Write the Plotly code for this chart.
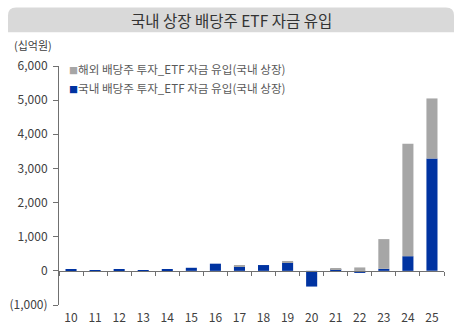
import plotly.graph_objects as go

categories = ['10', '11', '12', '13', '14', '15', '16', '17', '18', '19', '20', '21', '22', '23', '24', '25']
domestic = [30, 15, 30, 25, 30, 90, 210, 130, 170, 240, -460, 40, -60, 60, 430, 3290]
overseas = [0, 0, 0, 0, 0, 0, 0, 40, 0, 50, 0, 40, 100, 870, 3290, 1760]
name_overseas = '해외 배당주 투자_ETF 자금 유입(국내 상장)'
name_domestic = '국내 배당주 투자_ETF 자금 유입(국내 상장)'
title_text = '국내 상장 배당주 ETF 자금 유입'
unit_text = '(십억원)'
ytick_vals = [-1000, 0, 1000, 2000, 3000, 4000, 5000, 6000]
ytick_text = ['(1,000)', '0', '1,000', '2,000', '3,000', '4,000', '5,000', '6,000']

BLUE = '#0033a1'
GRAY = '#a6a6a6'
FONT = 'Noto Sans CJK KR'
W, H = 454, 335
ML, MR, MT, MB = 59, 10, 66, 28
PW, PH = W - ML - MR, H - MT - MB


def px_x(x):
    return (x - ML) / PW


def px_y(y):
    return (H - MB - y) / PH


fig = go.Figure()
fig.add_trace(go.Bar(x=categories, y=domestic, name=name_domestic, marker_color=BLUE,
                     marker_line_width=0, showlegend=False))
fig.add_trace(go.Bar(x=categories, y=overseas, name=name_overseas, marker_color=GRAY,
                     marker_line_width=0, showlegend=False))
# invisible trace to carry the zero-line category axis
fig.add_trace(go.Scatter(x=categories, y=[0] * len(categories), xaxis='x2', mode='lines',
                         line=dict(width=0), hoverinfo='skip', showlegend=False))

ymin, ymax = ytick_vals[0], ytick_vals[-1]
zero_pos = (0 - ymin) / (ymax - ymin)

fig.update_layout(
    width=W, height=H,
    margin=dict(l=ML, r=MR, t=MT, b=MB),
    paper_bgcolor='white', plot_bgcolor='white',
    barmode='relative', bargap=0.54,
    font=dict(family=FONT, size=12, color='#404040'),
    xaxis=dict(type='category', categoryorder='array', categoryarray=categories,
               range=[-0.5, len(categories) - 0.5], showline=False, ticks='',
               showgrid=False, zeroline=False, tickfont=dict(size=12, color='#404040'),
               ticklabelstandoff=4),
    xaxis2=dict(type='category', categoryorder='array', categoryarray=categories,
                range=[-0.5, len(categories) - 0.5], overlaying='x', anchor='free',
                position=zero_pos, showline=True, linecolor='#707070', linewidth=1,
                ticks='outside', tickson='boundaries', ticklen=4, tickcolor='#707070',
                showticklabels=False, showgrid=False, zeroline=False),
    yaxis=dict(range=[ymin, ymax], tickvals=ytick_vals, ticktext=ytick_text,
               showline=True, linecolor='#707070', linewidth=1, ticks='outside',
               ticklen=5, tickcolor='#707070', showgrid=False, zeroline=False,
               tickfont=dict(size=12, color='#404040'), ticklabelstandoff=3),
)

rx, ry = 8 / PW, 8 / PH
x0, x1 = px_x(8), px_x(454)
y0, y1 = px_y(32), px_y(7)
path = (f'M {x0},{y0} L {x0},{y1 - ry} Q {x0},{y1} {x0 + rx},{y1} '
        f'L {x1 - rx},{y1} Q {x1},{y1} {x1},{y1 - ry} L {x1},{y0} Z')
fig.add_shape(type='path', path=path, xref='paper', yref='paper',
              fillcolor='#d9d9d9', line=dict(width=0), layer='below')

fig.add_annotation(text=title_text, x=px_x(231), y=px_y(20), xref='paper', yref='paper',
                   showarrow=False, xanchor='center', yanchor='middle',
                   font=dict(size=15.5, color='#333333', family=FONT))
fig.add_annotation(text=unit_text, x=px_x(12), y=px_y(45), xref='paper', yref='paper',
                   showarrow=False, xanchor='left', yanchor='middle',
                   font=dict(size=11, color='#404040', family=FONT))

legend_items = [(name_overseas, GRAY, 69), (name_domestic, BLUE, 88)]
for label, color, ypx in legend_items:
    fig.add_annotation(
        text=f"<span style='color:{color};font-size:9px'>■</span>{label}",
        x=px_x(67), y=px_y(ypx), xref='paper', yref='paper', showarrow=False,
        xanchor='left', yanchor='middle', font=dict(size=11.6, color='#595959', family=FONT))

fig.write_html('out.html')
